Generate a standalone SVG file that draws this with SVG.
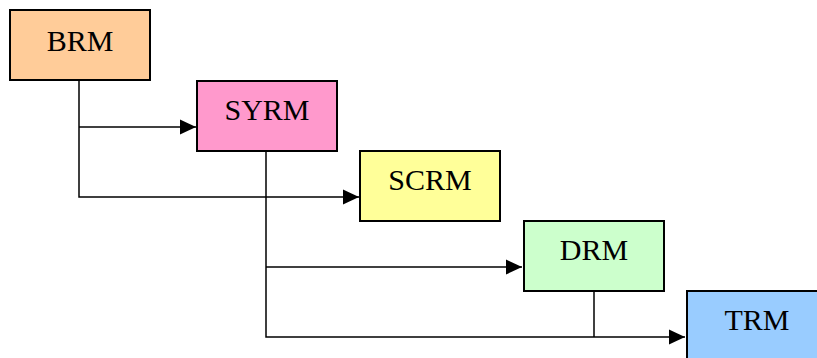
<svg xmlns="http://www.w3.org/2000/svg" width="817" height="358" viewBox="0 0 817 358">
<defs>
<marker id="ah" markerUnits="userSpaceOnUse" markerWidth="16" markerHeight="16" viewBox="0 0 16 16" refX="16" refY="8" orient="auto">
<path d="M0,0.5 L16,8 L0,15.5 Z" fill="#000"/>
</marker>
<style>
.box{stroke:#000;stroke-width:2}
.lbl{font-family:"Liberation Serif","Times New Roman",serif;font-size:30px;fill:#000;text-anchor:middle}
.c{fill:none;stroke:#000;stroke-width:1.5}
</style>
</defs>
<rect width="817" height="358" fill="#fff"/>
<g id="connectors">
<polyline class="c" points="79,80 79,197 359,197" marker-end="url(#ah)"/>
<line class="c" x1="79" y1="127" x2="196" y2="127" marker-end="url(#ah)"/>
<polyline class="c" points="266,151 266,337 685,337" marker-end="url(#ah)"/>
<line class="c" x1="266" y1="267" x2="522" y2="267" marker-end="url(#ah)"/>
<line class="c" x1="594" y1="291" x2="594" y2="337"/>
</g>
<g id="BRM"><rect class="box" x="10" y="10" width="140" height="70" fill="#FFCC99"/><text class="lbl" x="80" y="51">BRM</text></g>
<g id="SYRM"><rect class="box" x="197" y="81" width="140" height="70" fill="#FF99CC"/><text class="lbl" x="267" y="120">SYRM</text></g>
<g id="SCRM"><rect class="box" x="360" y="151" width="140" height="70" fill="#FFFF99"/><text class="lbl" x="430" y="190">SCRM</text></g>
<g id="DRM"><rect class="box" x="524" y="221" width="140" height="70" fill="#CCFFCC"/><text class="lbl" x="594" y="260">DRM</text></g>
<g id="TRM"><rect class="box" x="687" y="291" width="140" height="70" fill="#99CCFF"/><text class="lbl" x="757" y="330">TRM</text></g>
</svg>
